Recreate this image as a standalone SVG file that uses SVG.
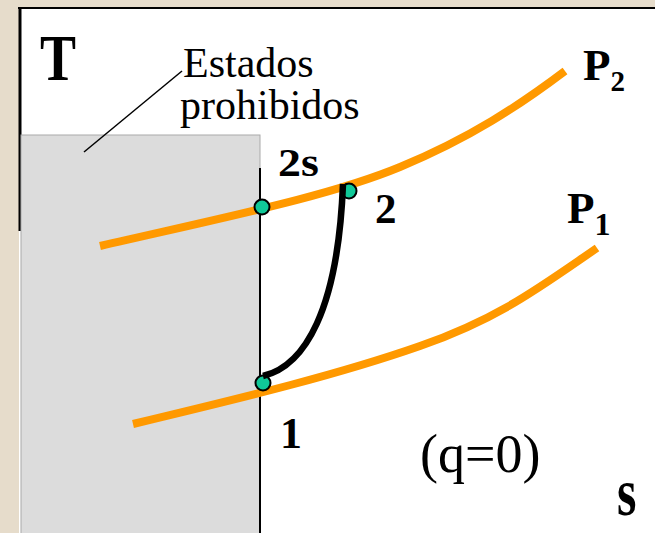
<svg xmlns="http://www.w3.org/2000/svg" width="655" height="533" viewBox="0 0 655 533">
<style>
.b{font-family:"Liberation Serif","Times New Roman",serif;font-weight:bold;fill:#000}
.r{font-family:"Liberation Serif","Times New Roman",serif;fill:#000}
.iso{fill:none;stroke:#ff9900;stroke-width:8}
.dot{fill:#10c898;stroke:#000;stroke-width:2}
</style>
<rect width="655" height="533" fill="#e6dccb"/>
<rect x="19" y="8" width="636" height="525" fill="#fff"/>
<line x1="18" y1="8" x2="655" y2="8" stroke="#000" stroke-width="2"/>
<line x1="20" y1="8" x2="20" y2="231" stroke="#000" stroke-width="3"/>
<g id="forbidden">
<rect x="21" y="135" width="239" height="400" fill="#dcdcdc" stroke="#aaa" stroke-width="1"/>
<line x1="260" y1="168" x2="260" y2="533" stroke="#000" stroke-width="2"/>
</g>
<g id="connectors">
<line x1="84" y1="152" x2="182" y2="71" stroke="#000" stroke-width="1.5"/>
<path id="P2" class="iso" d="M100,246 C230,216 330,196 400,167 S520,105 565,71"/>
<path id="P1" class="iso" d="M133,424 C250,396 340,374 420,346 S540,287 597,248"/>
</g>
<g id="state2s"><circle class="dot" cx="262" cy="207" r="7.5"/></g>
<g id="state2"><circle class="dot" cx="349" cy="191" r="7.5"/></g>
<g id="state1"><circle class="dot" cx="263" cy="383" r="7.5"/></g>
<g id="process"><path d="M263,376 C305,366 338,310 343,184" fill="none" stroke="#000" stroke-width="6.5"/></g>
<g id="labels">
<text class="b" font-size="54" transform="translate(40,80) scale(1,1.2)">T</text>
<text class="r" x="183" y="77" font-size="42">Estados</text>
<text class="r" x="180" y="119" font-size="42">prohibidos</text>
<text class="b" font-size="41" transform="translate(278,176) scale(1.12,1)">2s</text>
<text class="b" x="375" y="223" font-size="43">2</text>
<text class="b" x="280" y="448" font-size="44">1</text>
<text class="b" x="583" y="80" font-size="45">P<tspan font-size="29" dy="11">2</tspan></text>
<text class="b" x="567" y="223" font-size="45">P<tspan font-size="32" dy="12">1</tspan></text>
<text class="r" x="420" y="472" font-size="54">(q=0)</text>
<text class="b" font-size="50" transform="translate(617,515) scale(1,1.36)">s</text>
</g>
</svg>
